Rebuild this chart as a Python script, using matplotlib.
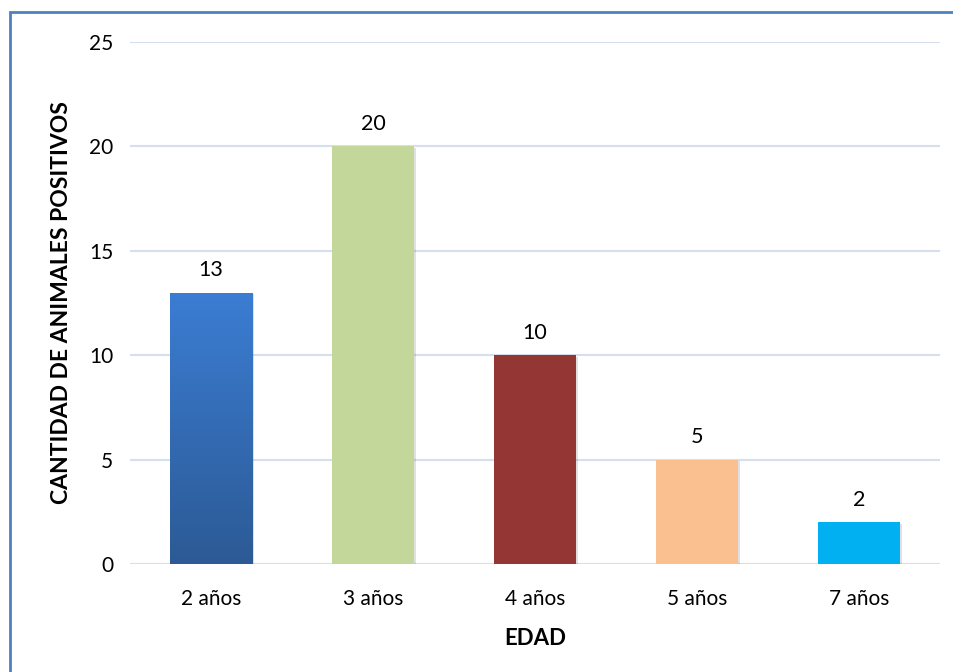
import matplotlib.pyplot as plt
import numpy as np
from matplotlib.patches import Rectangle
from matplotlib.colors import LinearSegmentedColormap

categories = ["2 años", "3 años", "4 años", "5 años", "7 años"]
values = [13, 20, 10, 5, 2]
colors = ["#3a7bd0", "#c4d79b", "#943634", "#fac090", "#00b0f0"]

plt.rcParams['font.family'] = ['Lato', 'DejaVu Sans']

fig = plt.figure(figsize=(9.54, 6.72), dpi=100)
ax = fig.add_axes([130 / 954, 108 / 672, 810 / 954, 522 / 672])

x = np.arange(len(categories))
bars = ax.bar(x, values, width=0.51, color=colors, zorder=3)

# gradient on the first bar (lighter on top, darker at the bottom)
b0 = bars[0]
grad = np.linspace(0, 1, 256).reshape(-1, 1)
cmap = LinearSegmentedColormap.from_list("blu", ["#2c5a95", "#3b7dd3"])
bx, bw, bh = b0.get_x(), b0.get_width(), b0.get_height()
im = ax.imshow(grad, cmap=cmap, origin="lower", aspect="auto",
               extent=[bx, bx + bw, 0, bh], zorder=3.5)
im.set_clip_path(b0)

# faint shadow to the right of each bar
for b in bars:
    sh = Rectangle((b.get_x() + 0.012, 0), b.get_width(), b.get_height() - 0.08,
                   color="#000000", alpha=0.12, zorder=2.5, lw=0)
    ax.add_patch(sh)

for xi, v in zip(x, values):
    ax.text(xi, v + 0.6, str(v), ha="center", va="bottom", fontsize=15.5, color="#000000")

ax.set_xlim(-0.5, len(categories) - 0.5)
ax.set_ylim(0, 25)
ax.set_yticks([0, 5, 10, 15, 20, 25])
ax.set_xticks(x)
ax.set_xticklabels(categories)
ax.tick_params(axis="both", length=0, labelsize=15, colors="#000000")
ax.tick_params(axis="y", pad=12)
ax.tick_params(axis="x", pad=18)
ax.grid(axis="y", color="#d5e0ef", linewidth=1.5, zorder=0)
ax.set_axisbelow(True)
for s in ax.spines.values():
    s.set_visible(False)

ax.set_ylabel("CANTIDAD DE ANIMALES POSITIVOS", fontsize=16.5, fontweight="bold")
ax.yaxis.set_label_coords(-58 / 810, 0.5)
ax.set_xlabel("EDAD", fontsize=16, fontweight="bold", labelpad=14)

# outer frame
fig.patches.append(Rectangle((10 / 954, -0.05), 1.1, (672 - 12) / 672 + 0.05,
                             transform=fig.transFigure, fill=False,
                             edgecolor="#4f81bd", linewidth=2, zorder=0))

fig.savefig("out.png", dpi=100)
